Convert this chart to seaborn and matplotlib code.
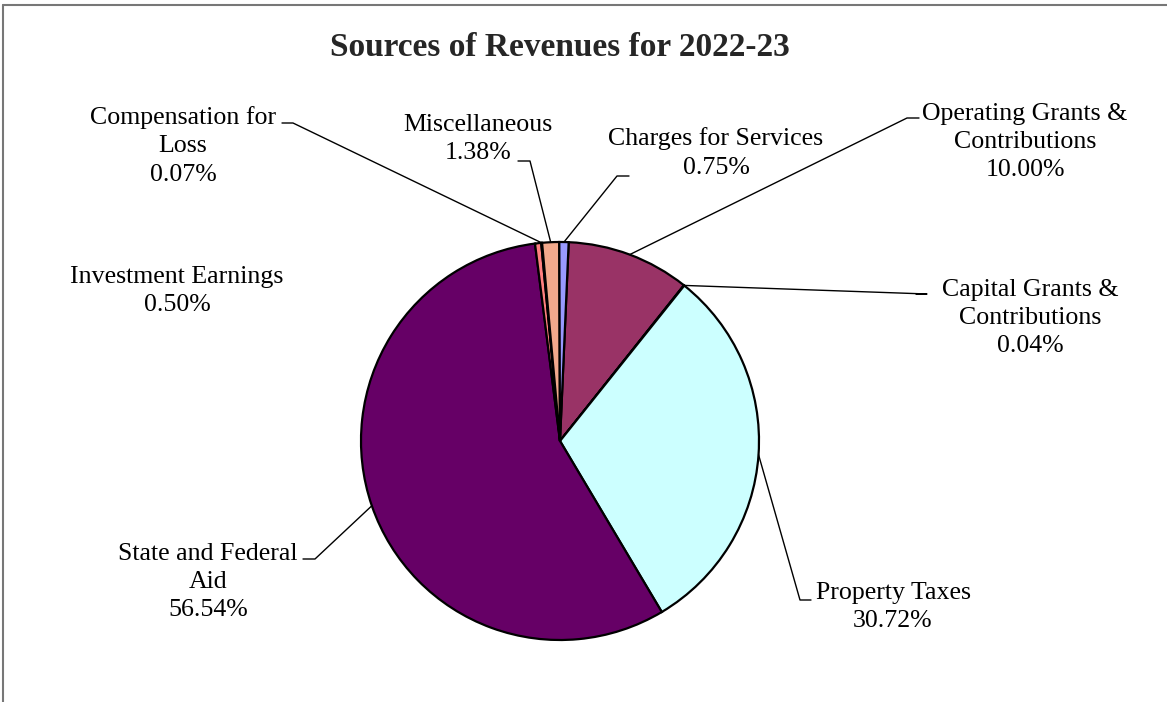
import numpy as np
import matplotlib
matplotlib.use("Agg")
import matplotlib.pyplot as plt
import seaborn as sns

# data
categories = [
    "Operating Grants &\nContributions",
    "Capital Grants &\nContributions",
    "Property Taxes",
    "State and Federal\nAid",
    "Investment Earnings",
    "Compensation for\nLoss",
    "Miscellaneous",
    "Charges for Services",
]
shares = [10.00, 0.04, 30.72, 56.54, 0.50, 0.07, 1.38, 0.75]
colors = ["#993366", "#FFFFCC", "#CCFFFF", "#660066", "#FF8080", "#0066CC", "#F2A98C", "#9999FF"]

W, H = 1167, 702

# label layout in pixel coords: text centre, stub (elbow, end) or None
label_pos = {
    "Operating Grants &\nContributions": ((1025, 142), ((907, 118), (919, 118))),
    "Capital Grants &\nContributions": ((1030, 318), ((927, 294), (916, 294))),
    "Property Taxes": ((893, 607), ((800, 600), (811, 600))),
    "State and Federal\nAid": ((208, 582), ((315, 559), (303, 559))),
    "Investment Earnings": ((177, 291), None),
    "Compensation for\nLoss": ((183, 146), ((293, 123), (282, 123))),
    "Miscellaneous": ((478, 139), ((530, 161), (518, 161))),
    "Charges for Services": ((716, 153), ((617, 176), (629, 176))),
}


def px(x, y):
    return x, H - y


def plot_pie():
    sns.set_theme(style="white")
    plt.rcParams["font.family"] = ["Liberation Serif", "DejaVu Serif"]

    fig = plt.figure(figsize=(W / 100, H / 100), dpi=100)
    ax = fig.add_axes([0, 0, 1, 1])

    cx, cy = px(560, 441)
    r = 199
    wedges, _ = ax.pie(
        shares, colors=colors, startangle=87.5, counterclock=False,
        center=(cx, cy), radius=r,
        wedgeprops=dict(edgecolor="black", linewidth=1.6),
    )
    ax.set_xlim(0, W)
    ax.set_ylim(0, H)
    ax.set_aspect("equal")
    ax.axis("off")

    for w, name, val in zip(wedges, categories, shares):
        (tx, ty), stub = label_pos[name]
        ax.text(*px(tx, ty), f"{name}\n{val:.2f}%", ha="center", va="center",
                fontsize=18.6, linespacing=1.37, color="black")
        if stub is None:
            continue
        # leader from the middle of the slice's arc to the label
        ang = np.deg2rad((w.theta1 + w.theta2) / 2)
        p0 = (cx + r * np.cos(ang), cy + r * np.sin(ang))
        e = px(*stub[0])
        s = px(*stub[1])
        ax.plot([p0[0], e[0], s[0]], [p0[1], e[1], s[1]], color="black", lw=1.0)

    ax.text(*px(560, 48), "Sources of Revenues for 2022-23", ha="center", va="center",
            fontsize=24, fontweight="bold")

    # outer chart frame (top and left visible)
    ax.plot([px(3, 5)[0], W], [px(3, 5)[1], px(3, 5)[1]], color="#777777", lw=1.5)
    ax.plot([3, 3], [0, px(3, 5)[1]], color="#777777", lw=1.5)

    fig.savefig("out.png", dpi=100)


plot_pie()
